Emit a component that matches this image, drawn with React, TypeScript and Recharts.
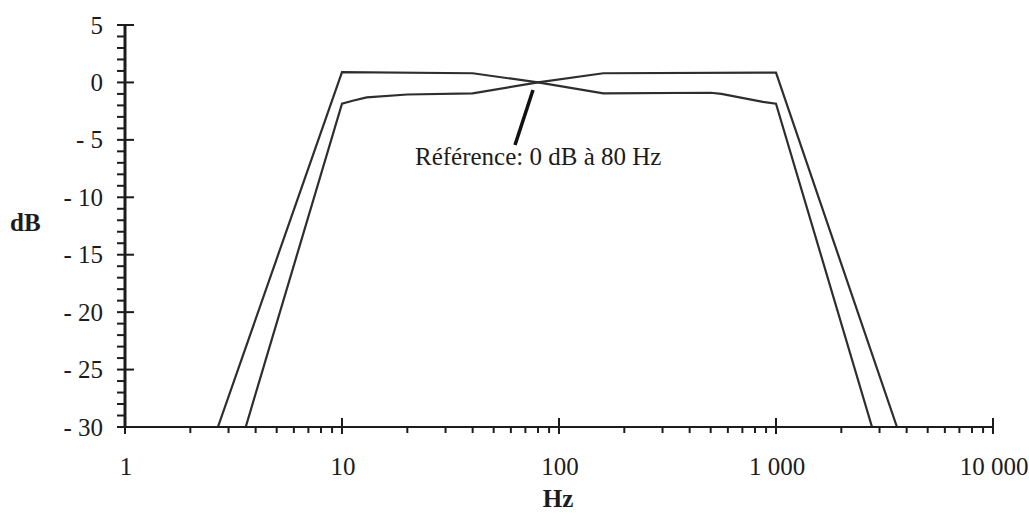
import React from 'react';
import { LineChart, Line, XAxis, YAxis, ReferenceLine } from 'recharts';

// Curve that is higher at 10 Hz and lower at 1 kHz
const curveA = [
  { f: 2.68, db: -30 },
  { f: 10, db: 0.9 },
  { f: 40, db: 0.8 },
  { f: 80, db: 0 },
  { f: 160, db: -0.95 },
  { f: 500, db: -0.9 },
  { f: 560, db: -1.0 },
  { f: 870, db: -1.7 },
  { f: 1000, db: -1.85 },
  { f: 2770, db: -30 },
];

// Curve that is lower at 10 Hz and higher at 1 kHz
const curveB = [
  { f: 3.6, db: -30 },
  { f: 10, db: -1.85 },
  { f: 11.2, db: -1.6 },
  { f: 13, db: -1.3 },
  { f: 20, db: -1.05 },
  { f: 40, db: -0.95 },
  { f: 80, db: 0 },
  { f: 160, db: 0.8 },
  { f: 1000, db: 0.85 },
  { f: 3610, db: -30 },
];

const X_MAJOR = [1, 10, 100, 1000, 10000];
const X_LABELS = ['1', '10', '100', '1 000', '10 000'];
const X_MINOR_MULT = [2, 3, 4, 5, 6, 7, 8, 9];

const Y_MAJOR = [5, 0, -5, -10, -15, -20, -25, -30];
const Y_LABELS = ['5', '0', '- 5', '- 10', '- 15', '- 20', '- 25', '- 30'];

const POINTER = [
  { x: 75.9, y: -0.66 },
  { x: 62.7, y: -5.45 },
];

const ANNOTATION = 'Référence: 0 dB à 80 Hz';
const Y_TITLE = 'dB';
const X_TITLE = 'Hz';

const FONT = '"Liberation Serif", "Times New Roman", serif';
const INK = '#1c1c1c';

const xTicks: number[] = [];
X_MAJOR.forEach((m, i) => {
  xTicks.push(m);
  if (i < X_MAJOR.length - 1) X_MINOR_MULT.forEach((k) => xTicks.push(m * k));
});
const yTicks: number[] = [];
for (let v = -30; v <= 5; v++) yTicks.push(v);

function XTick(props: any) {
  const { x, y, payload } = props;
  const idx = X_MAJOR.indexOf(payload.value);
  const major = idx >= 0;
  return (
    <g>
      <line x1={x} x2={x} y1={major ? y - 9 : y} y2={major ? y + 7 : y + 6} stroke={INK} strokeWidth={2} />
      {major && (
        <text x={x + 1} y={y + 48} textAnchor="middle" fontFamily={FONT} fontSize={25} fill={INK}>
          {X_LABELS[idx]}
        </text>
      )}
    </g>
  );
}

function YTick(props: any) {
  const { x, y, payload } = props;
  const idx = Y_MAJOR.indexOf(payload.value);
  const major = idx >= 0;
  return (
    <g>
      <line x1={x - 8} x2={major ? x + 9 : x} y1={y} y2={y} stroke={INK} strokeWidth={2} />
      {major && (
        <text x={x - 22} y={y + 8.5} textAnchor="end" fontFamily={FONT} fontSize={25} fill={INK}>
          {Y_LABELS[idx]}
        </text>
      )}
    </g>
  );
}

export default function App() {
  return (
    <div style={{ position: 'absolute', left: 0, top: 0, width: 1029, height: 524, background: '#fff' }}>
      <LineChart width={1029} height={524} margin={{ top: 25, right: 36, left: 0, bottom: 0 }}>
        <XAxis
          dataKey="f"
          type="number"
          scale="log"
          domain={[1, 10000]}
          ticks={xTicks}
          interval={0}
          allowDataOverflow
          height={97}
          tickSize={0}
          tickMargin={0}
          tickLine={false}
          axisLine={{ stroke: INK, strokeWidth: 2 }}
          tick={XTick}
        />
        <YAxis
          type="number"
          domain={[-30, 5]}
          ticks={yTicks}
          interval={0}
          allowDataOverflow
          width={125}
          tickSize={0}
          tickMargin={0}
          tickLine={false}
          axisLine={{ stroke: INK, strokeWidth: 3 }}
          tick={YTick}
        />
        <Line data={curveA} dataKey="db" type="linear" dot={false} activeDot={false} stroke="#2e2e2e" strokeWidth={2.2} isAnimationActive={false} />
        <Line data={curveB} dataKey="db" type="linear" dot={false} activeDot={false} stroke="#2e2e2e" strokeWidth={2.2} isAnimationActive={false} />
        <ReferenceLine segment={POINTER} stroke="#111" strokeWidth={3.5} ifOverflow="visible" />
      </LineChart>
      <svg width={1029} height={524} style={{ position: 'absolute', left: 0, top: 0, pointerEvents: 'none' }}>
        <text x={10} y={231} fontFamily={FONT} fontSize={25} fontWeight="bold" fill={INK}>
          {Y_TITLE}
        </text>
        <text x={558} y={507} textAnchor="middle" fontFamily={FONT} fontSize={25} fontWeight="bold" fill={INK}>
          {X_TITLE}
        </text>
        <text x={415} y={165} fontFamily={FONT} fontSize={25} fill={INK}>
          {ANNOTATION}
        </text>
      </svg>
    </div>
  );
}
